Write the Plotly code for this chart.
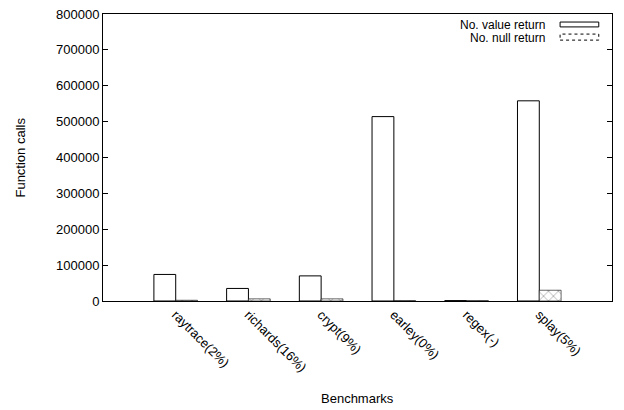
import plotly.graph_objects as go

categories = ["raytrace(2%)", "richards(16%)", "crypt(9%)", "earley(0%)", "regex(-)", "splay(5%)"]
value_return = [74000, 35000, 70000, 514000, 1000, 558000]
null_return = [2000, 6000, 6000, 1000, 1000, 30000]
series_names = ["No. value return", "No. null return"]
y_ticks = [0, 100000, 200000, 300000, 400000, 500000, 600000, 700000, 800000]

font = dict(family="Liberation Sans, Arial, sans-serif", size=13, color="#000000")

fig = go.Figure()
fig.add_trace(go.Bar(
    x=list(range(len(categories))), y=value_return, name=series_names[0],
    marker=dict(color="white", line=dict(color="black", width=1)),
))
fig.add_trace(go.Bar(
    x=list(range(len(categories))), y=null_return, name=series_names[1],
    marker=dict(color="white", line=dict(color="black", width=0.6),
                pattern=dict(shape="x", fgcolor="black", bgcolor="white", size=7, solidity=0.15)),
))

# page body has an 8px default margin, so the figure is 8px smaller than the window
fig.update_layout(
    width=616, height=402,
    margin=dict(l=95, r=12, t=6, b=109),
    paper_bgcolor="white", plot_bgcolor="white",
    barmode="group", bargap=0.4, bargroupgap=0,
    showlegend=False,
    font=font,
)
fig.update_xaxes(
    range=[-1, 6], automargin=False,
    tickmode="array", tickvals=list(range(len(categories))), ticktext=categories,
    tickangle=45, ticks="", showgrid=False, zeroline=False,
    showline=True, linecolor="black", linewidth=1, mirror=True,
    tickfont=font,
)
fig.update_yaxes(
    range=[0, 800000], automargin=False, ticklabeloverflow="allow",
    tickmode="array", tickvals=y_ticks, ticktext=[str(v) for v in y_ticks],
    ticks="inside", ticklen=5, tickcolor="black", showgrid=False, zeroline=False,
    showline=True, linecolor="black", linewidth=1, mirror="ticks",
    tickfont=font,
)

# axis titles
fig.add_annotation(x=0.5, y=-0.338, xref="paper", yref="paper", text="Benchmarks",
                   showarrow=False, xanchor="center", yanchor="middle", font=font)
fig.add_annotation(x=-0.163, y=0.5, xref="paper", yref="paper", text="Function calls",
                   showarrow=False, xanchor="center", yanchor="middle", textangle=-90, font=font)

# legend drawn gnuplot-style: right-aligned text then sample box
legend_font = dict(font, size=12)
legend_rows = [(0.961, 0.972, 0.955, "solid"), (0.917, 0.930, 0.909, "dot")]
for name, (ty, y1, y0, dash) in zip(series_names, legend_rows):
    fig.add_annotation(x=0.872, y=ty, xref="paper", yref="paper", text=name,
                       showarrow=False, xanchor="right", yanchor="middle", font=legend_font)
    fig.add_shape(type="rect", xref="paper", yref="paper", x0=0.898, x1=0.974, y0=y0, y1=y1,
                  line=dict(color="black", width=1, dash=dash), fillcolor="white")

fig.write_html("out.html")
